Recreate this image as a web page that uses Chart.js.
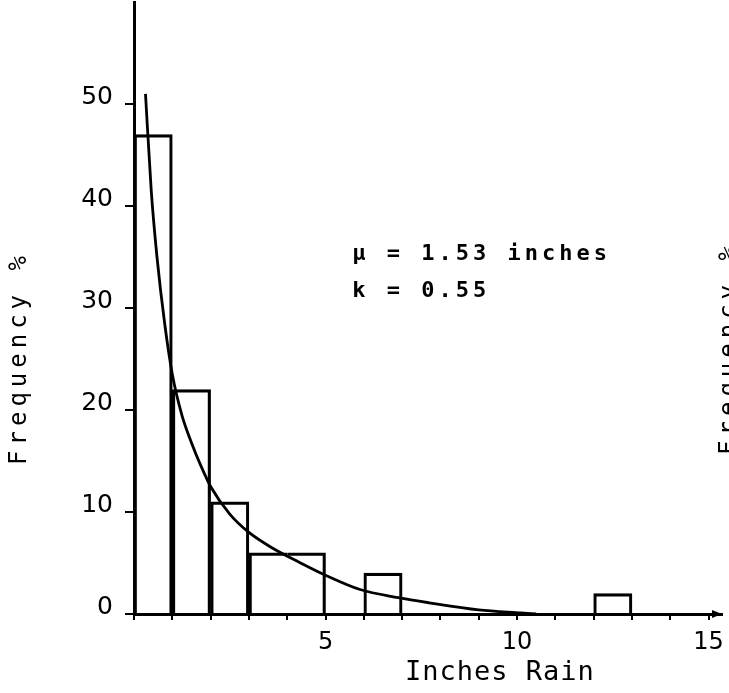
<!DOCTYPE html>
<html>
<head>
<meta charset="utf-8">
<script src="https://cdn.jsdelivr.net/npm/chart.js@4.4.0/dist/chart.umd.min.js"></script>
<style>
  html, body { margin: 0; padding: 0; background: #fff; }
  #wrap { width: 729px; height: 693px; position: relative; }
</style>
</head>
<body>
<div id="wrap"><canvas id="rainChart"></canvas></div>
<script>
// Histogram bins (inches of rain) and frequency in %
const binStart = [0, 1, 2, 3, 6, 12];
const binEnd   = [1, 2, 3, 5, 7, 13];
const binFreq  = [47, 22, 11, 6, 4, 2];

// fitted curve
const curveX = [0.3, 0.45, 0.6, 0.8, 1.0, 1.25, 1.5, 1.75, 2.0, 2.5, 3.0, 3.6, 4.3, 5.0, 5.9, 6.9, 7.7, 9.0, 10.1, 10.5];
const curveY = [51, 41.5, 35, 28.5, 23.5, 19.5, 16.8, 14.5, 12.5, 9.8, 8.0, 6.5, 5.1, 3.8, 2.4, 1.6, 1.1, 0.4, 0.1, 0];

// tick labels
const xTickLabels = [5, 10, 15];
const yTickLabels = [0, 10, 20, 30, 40, 50];

// one column per inch, wide bins get no inner edge
const barPoints = [];
binStart.forEach((s, i) => {
    for (let u = s; u < binEnd[i]; u++) {
        let part = 'whole';
        if (binEnd[i] - s > 1) {
            part = (u === s) ? 'first' : (u === binEnd[i] - 1 ? 'last' : 'mid');
        }
        barPoints.push({ x: u + 0.5, y: binFreq[i], part: part });
    }
});
const curvePoints = curveX.map((x, i) => ({ x: x, y: curveY[i] }));

const lw = 2.5;
function barBorder(c) {
    const part = c.raw ? c.raw.part : 'whole';
    return {
        top: lw,
        bottom: 0,
        left: (part === 'whole' || part === 'first') ? lw : 0,
        right: (part === 'whole' || part === 'last') ? lw : 0
    };
}

const mono = '"DejaVu Sans Mono", monospace';

// texts written on the plot
const labelsPlugin = {
    id: 'labels',
    afterDraw(chart) {
        const c = chart.ctx;
        const area = chart.chartArea;
        const xs = chart.scales.x, ys = chart.scales.y;
        c.save();
        c.fillStyle = '#000';
        c.textBaseline = 'middle';

        // parameters
        c.font = 'bold 22px ' + mono;
        c.letterSpacing = '4px';
        c.textAlign = 'left';
        c.fillText('\u00b5 = 1.53 inches', xs.getPixelForValue(5.7), ys.getPixelForValue(35.3));
        c.fillText('k = 0.55', xs.getPixelForValue(5.7), ys.getPixelForValue(31.6));

        // x title
        c.font = '27px ' + mono;
        c.letterSpacing = '1px';
        c.textAlign = 'center';
        c.fillText('Inches Rain', xs.getPixelForValue(9.55), area.bottom + 59);

        // y title (and the edge of the next panel)
        c.font = '24px ' + mono;
        c.letterSpacing = '5px';
        [[20, 358], [730, 348]].forEach(p => {
            c.save();
            c.translate(p[0], p[1]);
            c.rotate(-Math.PI / 2);
            c.fillText('Frequency %', 0, 0);
            c.restore();
        });

        // arrow at the end of the x axis
        c.beginPath();
        c.moveTo(area.right, area.bottom);
        c.lineTo(area.right - 10, area.bottom - 4);
        c.lineTo(area.right - 10, area.bottom + 4);
        c.closePath();
        c.fill();
        c.restore();
    }
};

const ctx = document.getElementById('rainChart').getContext('2d');
const rainChart = new Chart(ctx, {
    data: {
        datasets: [{
            type: 'line',
            data: curvePoints,
            borderColor: '#000',
            borderWidth: 2.8,
            pointRadius: 0,
            tension: 0.4,
            cubicInterpolationMode: 'monotone',
            fill: false,
            order: 0
        }, {
            type: 'bar',
            data: barPoints,
            backgroundColor: 'rgba(0,0,0,0)',
            borderColor: '#000',
            borderWidth: barBorder,
            borderSkipped: false,
            barPercentage: 1,
            categoryPercentage: 1,
            order: 1
        }]
    },
    options: {
        responsive: true,
        maintainAspectRatio: false,
        animation: false,
        layout: { padding: { top: 2, right: 7, left: 0, bottom: 0 } },
        plugins: {
            legend: { display: false },
            tooltip: { enabled: false }
        },
        scales: {
            x: {
                type: 'linear',
                offset: false,
                min: 0,
                max: 15.35,
                afterFit: (s) => { s.height = 79; s.paddingLeft = 0; s.paddingRight = 0; },
                border: { color: '#000', width: 3 },
                grid: { offset: false, drawOnChartArea: false, tickLength: 6, lineWidth: 2, color: '#000' },
                ticks: {
                    stepSize: 1,
                    includeBounds: false,
                    autoSkip: false,
                    maxRotation: 0,
                    padding: 8,
                    color: '#000',
                    font: { family: '"DejaVu Sans"', size: 24 },
                    callback: (v) => xTickLabels.includes(v) ? String(v) : ''
                }
            },
            y: {
                min: 0,
                max: 60,
                afterFit: (s) => { s.width = 134; s.paddingTop = 0; s.paddingBottom = 0; },
                border: { color: '#000', width: 3 },
                grid: { drawOnChartArea: false, tickLength: 9, lineWidth: 2, color: '#000' },
                ticks: {
                    stepSize: 10,
                    padding: 12,
                    labelOffset: -7,
                    color: '#000',
                    font: { family: '"DejaVu Sans"', size: 25 },
                    callback: (v) => yTickLabels.includes(v) ? String(v) : null
                }
            }
        }
    },
    plugins: [labelsPlugin]
});
</script>
</body>
</html>
